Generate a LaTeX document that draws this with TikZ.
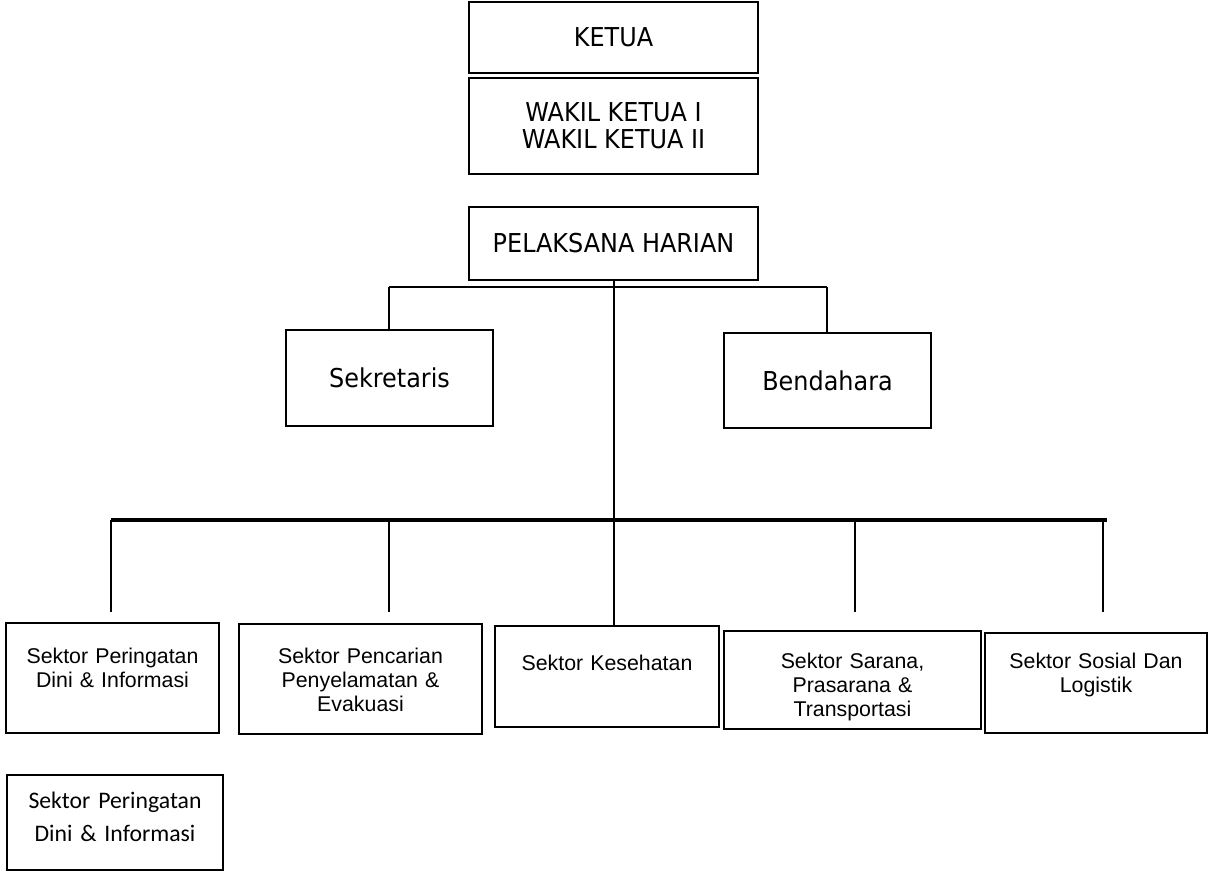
\documentclass[tikz,border=0pt]{standalone}
\usepackage{fontspec}
\setmainfont{Liberation Sans}
\newfontfamily\headfont[FakeStretch=0.92]{DejaVu Sans}
\newfontfamily\notefont{Carlito}
\usetikzlibrary{fit}

\begin{document}
\begin{tikzpicture}[x=0.75pt,y=-0.75pt,
  box/.style={draw=black, line width=1.5pt, inner sep=0pt},
  headbox/.style 2 args={box, minimum width=#1*0.75pt, minimum height=#2*0.75pt,
    font=\headfont\fontsize{19.5}{20.25}\selectfont, align=center},
  sectxt/.style={font=\fontsize{16}{18}\selectfont, align=center, inner sep=0pt, anchor=base},
  notetxt/.style={font=\notefont\fontsize{17.8}{24.75}\selectfont, align=center, inner sep=0pt, anchor=base},
  link/.style={line width=1.5pt},
  bus/.style={line width=2.4pt}]
\useasboundingbox (0,0) rectangle (1209,873);

% leadership
\node[headbox={289}{71}] (ketua) at (613.5,37.5) {KETUA};
\node[headbox={289}{96}] (wakil) at (613.5,126) {WAKIL KETUA I\\WAKIL KETUA II};
\node[headbox={289}{73}] (pel) at (613.5,243.5) {PELAKSANA HARIAN};

% secretariat and treasury
\node[headbox={207}{96}] (sek) at (389.5,378) {Sekretaris};
\node[headbox={207}{95}] (ben) at (827.5,380.5) {Bendahara};

% sectors
\node[box, fit={(6,623)(219,733)}] (s1) {};
\node[box, fit={(239,624)(482,734)}] (s2) {};
\node[box, fit={(495,626)(719,727)}] (kes) {};
\node[box, fit={(724,631)(981,729)}] (s4) {};
\node[box, fit={(985,633)(1207,733)}] (s5) {};
\node[box, fit={(7,775)(223,870)}] (s6) {};

\node[sectxt, text width=200*0.75pt] (s1t) at (112.5,663) {Sektor Peringatan\\Dini \& Informasi};
\node[sectxt, text width=230*0.75pt] (s2t) at (360.5,663) {Sektor Pencarian\\Penyelamatan \&\\Evakuasi};
\node[sectxt, text width=210*0.75pt] (kest) at (607,670) {Sektor Kesehatan};
\node[sectxt, text width=245*0.75pt] (s4t) at (852.5,668) {Sektor Sarana,\\Prasarana \&\\Transportasi};
\node[sectxt, text width=210*0.75pt] (s5t) at (1096,668) {Sektor Sosial Dan\\Logistik};
\node[notetxt, text width=205*0.75pt] (s6t) at (115,808) {Sektor Peringatan\\Dini \& Informasi};

% upper branch
\coordinate (tbL) at (389,287);
\coordinate (tbR) at (827,287);
\draw[link] (tbL) -- (tbR);
\draw[link] (tbL) -- (tbL |- sek.north);
\draw[link] (tbR) -- (tbR |- ben.north);
\draw[link] (pel.south) -- (pel.south |- kes.north);

% lower branch
\coordinate (bbL) at (111,520);
\coordinate (bbR) at (1107,520);
\coordinate (d1) at (111,612);
\coordinate (d2) at (389,612);
\coordinate (d4) at (855,612);
\coordinate (d5) at (1103,612);
\draw[bus] (bbL) -- (bbR);
\draw[link] (d1 |- bbL) -- (d1);
\draw[link] (d2 |- bbL) -- (d2);
\draw[link] (d4 |- bbL) -- (d4);
\draw[link] (d5 |- bbL) -- (d5);
\end{tikzpicture}
\end{document}
